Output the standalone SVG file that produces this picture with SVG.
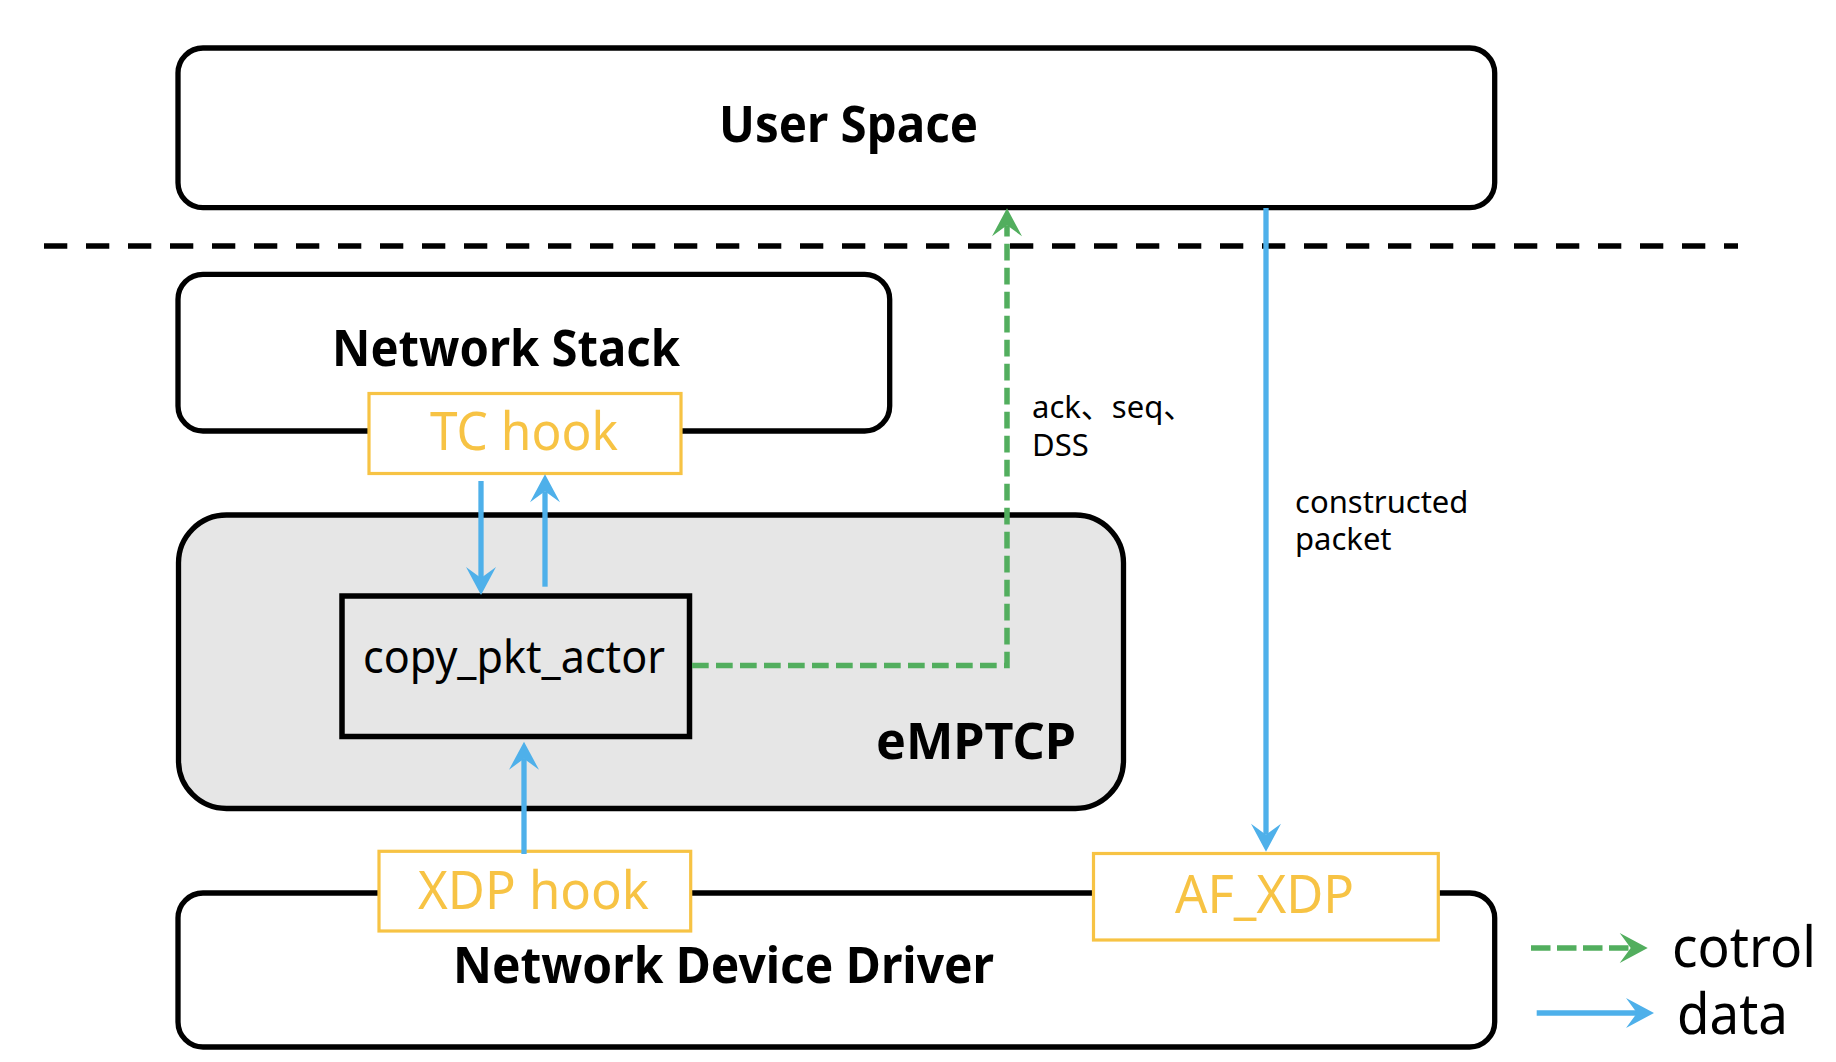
<svg xmlns="http://www.w3.org/2000/svg" width="1836" height="1062" viewBox="0 0 1836 1062">
<style>
.box{fill:#fff;stroke:#000;stroke-width:5.3}
.gray{fill:#E6E6E6;stroke:#000;stroke-width:5.3}
.act{fill:none;stroke:#000;stroke-width:5.5}
.hook{fill:#fff;stroke:#F7C344;stroke-width:3.2}
.bold{font-family:"Noto Sans","Open Sans",sans-serif;font-weight:bold;font-size:50px;fill:#000}
.ylw{font-family:"Noto Sans","Open Sans",sans-serif;font-size:52px;fill:#F7C344}
.reg{font-family:"Noto Sans","Open Sans",sans-serif;font-size:46px;fill:#000}
.sm{font-family:"Noto Sans","Noto Sans CJK SC",sans-serif;font-size:31px;fill:#000}
.leg{font-family:"Noto Sans","Open Sans",sans-serif;font-size:56px;fill:#000}
.blue{fill:none;stroke:#4EB0EA;stroke-width:5.3}
.green{fill:none;stroke:#52AE5E;stroke-width:5.5;stroke-dasharray:16.7 7.3}
.sep{fill:none;stroke:#000;stroke-width:5.3;stroke-dasharray:23.3 18.7}
</style>
<defs>
<marker id="ab" markerUnits="userSpaceOnUse" viewBox="-15 -16 34 32" refX="0" refY="0" markerWidth="34" markerHeight="32" orient="auto" overflow="visible">
<path d="M17,0 L-11,-15 L0,0 L-11,15 Z" fill="#4EB0EA"/>
</marker>
<marker id="ag" markerUnits="userSpaceOnUse" viewBox="-15 -16 34 32" refX="0" refY="0" markerWidth="34" markerHeight="32" orient="auto" overflow="visible">
<path d="M17,0 L-11,-15 L0,0 L-11,15 Z" fill="#52AE5E"/>
</marker>
</defs>
<rect width="1836" height="1062" fill="#fff"/>
<g id="separator">
<line class="sep" x1="44" y1="246" x2="1738" y2="246"/>
</g>
<g id="user-space">
<rect class="box" x="178" y="48" width="1316.7" height="159.7" rx="25"/>
<text class="bold" x="719" y="142.2" textLength="259" lengthAdjust="spacingAndGlyphs">User Space</text>
</g>
<g id="network-stack">
<rect class="box" x="178" y="274.3" width="711.7" height="156.7" rx="25"/>
<text class="bold" x="332" y="365.7" textLength="348" lengthAdjust="spacingAndGlyphs">Network Stack</text>
</g>
<g id="tc-hook">
<rect class="hook" x="369" y="393.5" width="312" height="80"/>
<text class="ylw" x="430" y="450" textLength="188" lengthAdjust="spacingAndGlyphs">TC hook</text>
</g>
<g id="emptcp">
<rect class="gray" x="178.5" y="515" width="945" height="293.5" rx="48"/>
<text class="bold" x="876" y="759" textLength="200" lengthAdjust="spacingAndGlyphs">eMPTCP</text>
</g>
<g id="copy-pkt-actor">
<rect class="act" x="342" y="596" width="347.5" height="140.5"/>
<text class="reg" x="363" y="673.3" textLength="302" lengthAdjust="spacingAndGlyphs">copy_pkt_actor</text>
</g>
<g id="network-device-driver">
<rect class="box" x="178" y="893" width="1316.7" height="154" rx="25"/>
<text class="bold" x="453" y="983.3" textLength="541" lengthAdjust="spacingAndGlyphs">Network Device Driver</text>
</g>
<g id="xdp-hook">
<rect class="hook" x="379" y="851.3" width="311.7" height="79.7"/>
<text class="ylw" x="418" y="909.3" textLength="231" lengthAdjust="spacingAndGlyphs">XDP hook</text>
</g>
<g id="af-xdp">
<rect class="hook" x="1093.5" y="853.5" width="344.8" height="86.5"/>
<text class="ylw" x="1175" y="913.3" textLength="179" lengthAdjust="spacingAndGlyphs">AF_XDP</text>
</g>
<g id="connectors">
<line class="blue" x1="481" y1="481" x2="481" y2="578" marker-end="url(#ab)"/>
<line class="blue" x1="545" y1="586.7" x2="545" y2="491.3" marker-end="url(#ab)"/>
<line class="blue" x1="524" y1="854" x2="524" y2="758.7" marker-end="url(#ab)"/>
<path class="green" d="M692,665.5 H1007 V225.3" marker-end="url(#ag)"/>
<line class="blue" x1="1266" y1="208" x2="1266" y2="834.7" marker-end="url(#ab)"/>
</g>
<g id="labels">
<text class="sm" x="1032" y="418.3">ack、seq、</text>
<text class="sm" x="1032" y="456">DSS</text>
<text class="sm" x="1295" y="513.3">constructed</text>
<text class="sm" x="1295" y="550">packet</text>
</g>
<g id="legend">
<line class="green" x1="1531" y1="948" x2="1630.7" y2="948" style="stroke-dasharray:19.5 6.5" marker-end="url(#ag)"/>
<text class="leg" x="1672" y="967.3" textLength="144" lengthAdjust="spacingAndGlyphs">cotrol</text>
<line class="blue" x1="1536.7" y1="1013" x2="1637" y2="1013" marker-end="url(#ab)"/>
<text class="leg" x="1677" y="1034" textLength="111" lengthAdjust="spacingAndGlyphs">data</text>
</g>
</svg>
